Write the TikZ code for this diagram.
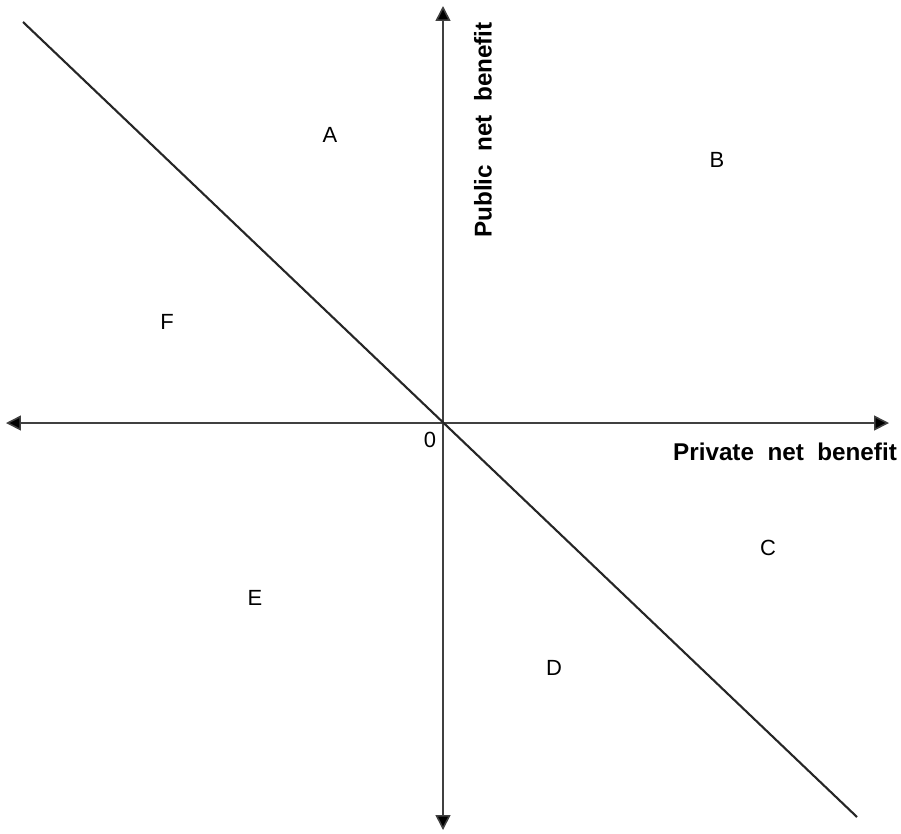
\documentclass[tikz,border=0pt]{standalone}
\usepackage{fontspec}
\setmainfont{Liberation Sans}
\usetikzlibrary{arrows.meta, positioning}

\begin{document}
\begin{tikzpicture}[x=0.02cm, y=-0.02cm,
        axis/.style={draw=black!75, line width=0.9pt, {Triangle[length=8.5pt, width=8.5pt, fill=black]}-{Triangle[length=8.5pt, width=8.5pt, fill=black]}},
        region/.style={font=\fontsize{12.5}{14}\selectfont},
        axislabel/.style={font=\fontsize{13.8}{16}\selectfont\bfseries}]
        \useasboundingbox (0, 0) rectangle (901, 833);
        % axes
        \coordinate (o) at (443, 423);
        \coordinate (xl) at (6, 423);
        \coordinate (xr) at (889, 423);
        \coordinate (yt) at (443, 6);
        \coordinate (yb) at (443, 830);
        \draw[axis] (xl) -- (xr);
        \draw[axis] (yb) -- (yt);
        % diagonal
        \coordinate (dl) at (23, 22);
        \coordinate (dr) at (857, 817);
        \draw[black!85, line width=1.2pt] (dl) -- (dr);
        % labels
        \node[region] (zero) at (430, 440) {0};
        \node[axislabel] (xlab) at (785, 452) {Private\ \ net\ \ benefit};
        \node[axislabel, rotate=90] (ylab) at (483, 130) {Public\ \ net\ \ benefit};
        \node[region] (ra) at (330, 135) {A};
        \node[region] (rb) at (717, 160) {B};
        \node[region] (rc) at (768, 548) {C};
        \node[region] (rd) at (554, 668) {D};
        \node[region] (re) at (255, 598) {E};
        \node[region] (rf) at (167, 322) {F};
    \end{tikzpicture}
\end{document}
